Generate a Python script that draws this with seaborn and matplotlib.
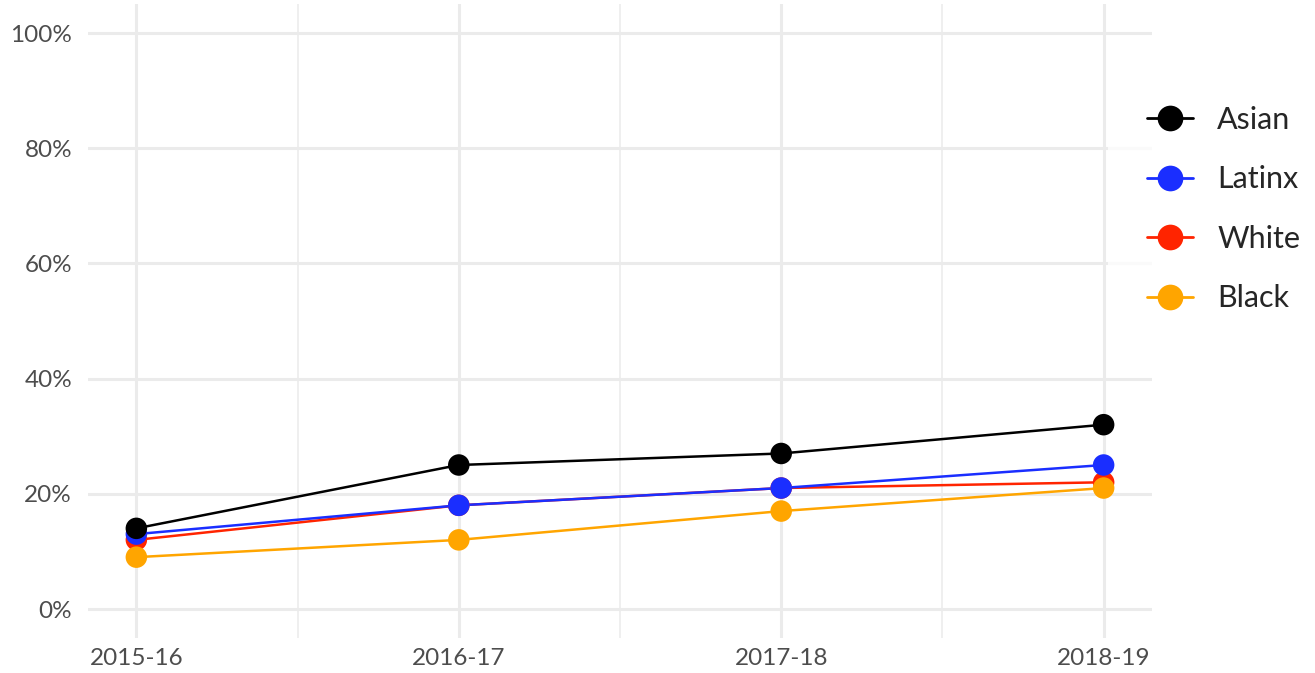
import numpy as np
import matplotlib
matplotlib.use("Agg")
import matplotlib.pyplot as plt
from matplotlib.lines import Line2D
from matplotlib.ticker import PercentFormatter
import pandas as pd
import seaborn as sns

years = ["2015-16", "2016-17", "2017-18", "2018-19"]
asian = [14, 25, 27, 32]
latinx = [13, 18, 21, 25]
white = [12, 18, 21, 22]
black = [9, 12, 17, 21]

groups = ["Asian", "Latinx", "White", "Black"]
colors = {"Asian": "#000000", "Latinx": "#1A2EFF", "White": "#FF2400", "Black": "#FFA500"}
draw_order = ["White", "Black", "Latinx", "Asian"]

df = pd.DataFrame({
    "year": years * 4,
    "pct": asian + latinx + white + black,
    "group": np.repeat(groups, len(years)),
})
df["x"] = df["year"].map({y: i for i, y in enumerate(years)})

sns.set_style("white")
plt.rcParams["font.family"] = ["Lato", "DejaVu Sans"]

fig = plt.figure(figsize=(13.15, 6.73), dpi=100)
ax = fig.add_axes([88 / 1315, 1 - 637.8 / 673, (1152 - 88) / 1315, (637.8 - 4.2) / 673])

# lines first, then points on top (like geom_line + geom_point)
for g in draw_order:
    sub = df[df["group"] == g]
    sns.lineplot(data=sub, x="x", y="pct", color=colors[g], linewidth=1.8,
                 ax=ax, zorder=3, legend=False, sort=False)
for g in draw_order:
    sub = df[df["group"] == g]
    sns.scatterplot(data=sub, x="x", y="pct", color=colors[g], s=240,
                    edgecolor="none", ax=ax, zorder=4, legend=False)

ax.set_xlim(-0.15, 3.15)
ax.set_ylim(-5, 105)
ax.set_xticks(range(len(years)))
ax.set_xticklabels(years)
ax.set_xticks([0.5, 1.5, 2.5], minor=True)
ax.set_yticks([0, 20, 40, 60, 80, 100])
ax.yaxis.set_major_formatter(PercentFormatter(decimals=0))

ax.grid(True, which="major", color="#EBEBEB", linewidth=2.2)
ax.grid(True, which="minor", axis="x", color="#EBEBEB", linewidth=1.1)
ax.set_axisbelow(True)
for s in ax.spines.values():
    s.set_visible(False)
ax.tick_params(axis="both", which="both", length=0, labelsize=17.5, labelcolor="#4D4D4D")
ax.tick_params(axis="x", pad=7)
ax.tick_params(axis="y", pad=11.5)
ax.set_xlabel("")
ax.set_ylabel("")

handles = [Line2D([0], [0], color=colors[g], linewidth=2, marker="o",
                  markersize=18.5, markeredgewidth=0) for g in groups]
leg = fig.legend(handles, groups, loc="center left",
                 bbox_to_anchor=(1108 / 1315, 1 - 209 / 673),
                 frameon=True, facecolor="white", edgecolor="white", fancybox=False,
                 fontsize=22, handlelength=1.5, handletextpad=0.8,
                 labelspacing=1.03, borderpad=1.28, borderaxespad=0)
leg.get_frame().set_linewidth(0)

fig.savefig("out.png", dpi=100, facecolor="white")
